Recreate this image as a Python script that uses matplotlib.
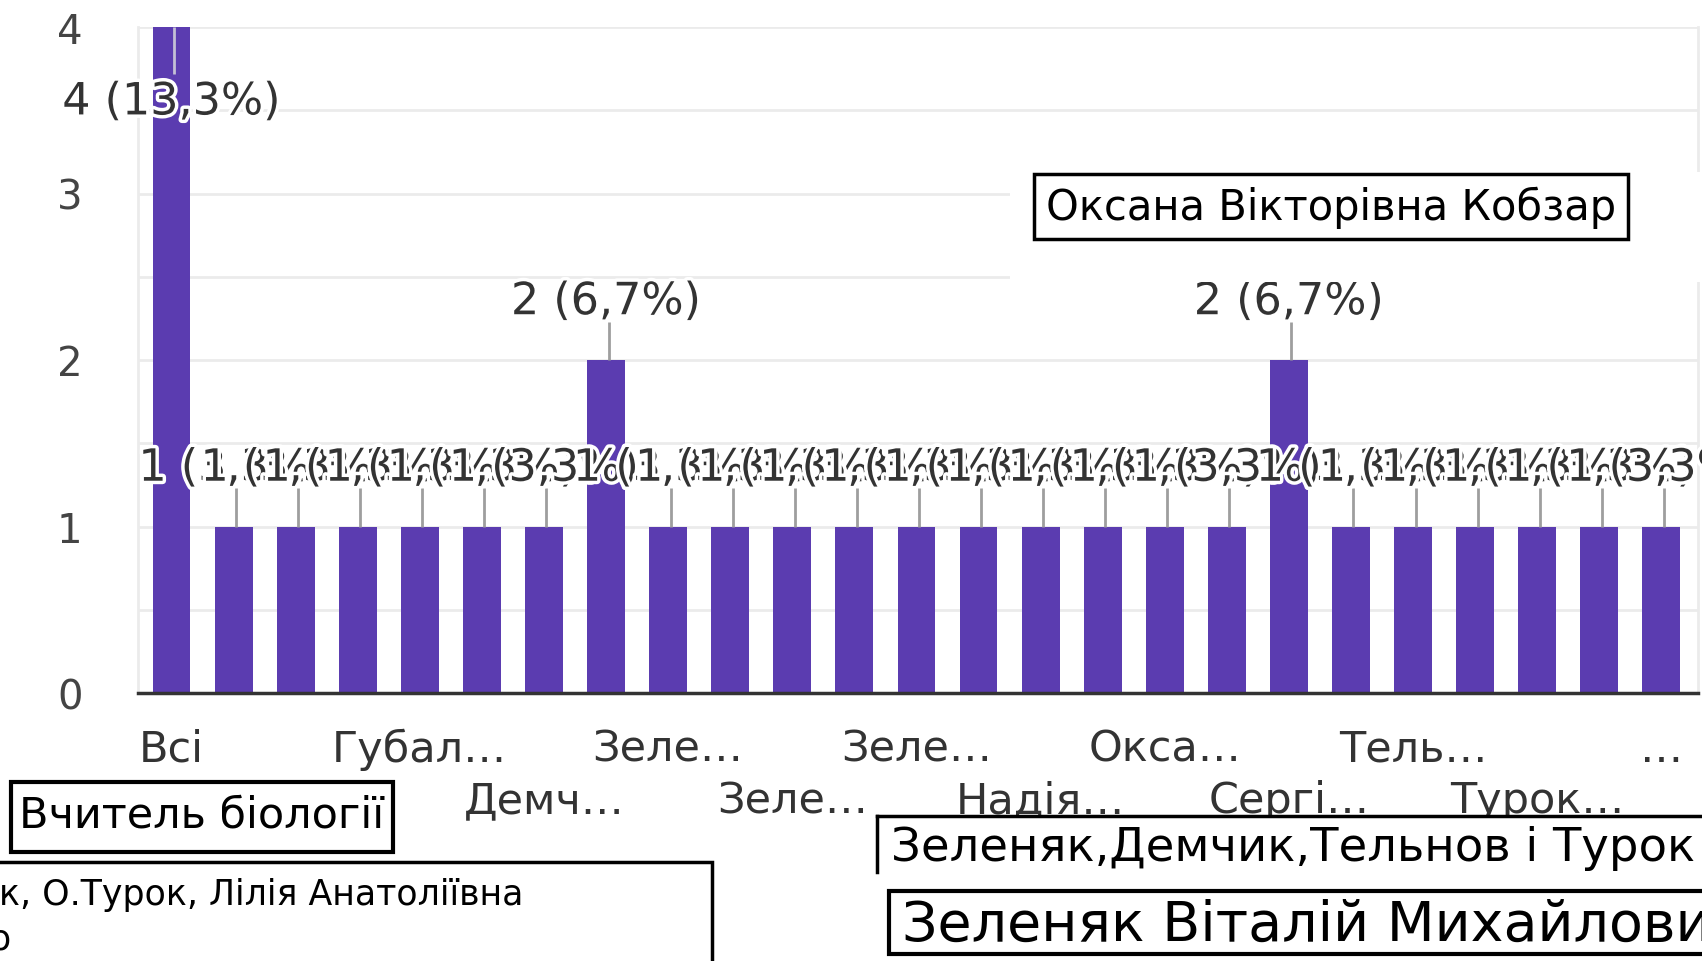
import numpy as np
import matplotlib
matplotlib.use('Agg')
import matplotlib.pyplot as plt
import matplotlib.patheffects as pe
from matplotlib.patches import Rectangle
from matplotlib.lines import Line2D

plt.rcParams['font.family'] = ['DejaVu Sans']

# кількість відповідей для кожного варіанта
counts = [4, 1, 1, 1, 1, 1, 1, 2, 1, 1, 1, 1, 1, 1, 1, 1, 1, 1, 2, 1, 1, 1, 1, 1, 1]

# підписи осі X (два ряди, через один стовпчик)
row1_pos = [0, 4, 8, 12, 16, 20, 24]
row1_labels = ['Всі', 'Губал…', 'Зеле…', 'Зеле…', 'Окса…', 'Тель…', '…']
row2_pos = [2, 6, 10, 14, 18, 22]
row2_labels = ['', 'Демч…', 'Зеле…', 'Надія…', 'Сергі…', 'Турок…']

y_ticks = [0, 1, 2, 3, 4]

# написи у рамках поверх діаграми
note_teacher = 'Вчитель біології'
note_names = 'к, О.Турок, Лілія Анатоліївна'
note_kobzar = 'Оксана Вікторівна Кобзар'
note_group = 'Зеленяк,Демчик,Тельнов і Турок'
note_zelenyak = 'Зеленяк Віталій Михайлович'

W, H = 1702, 962
BAR = '#5b3cb0'
GRID = '#ebebeb'


def fx(px):
    return px / W


def fy(py):
    return 1 - py / H


fig = plt.figure(figsize=(W / 100, H / 100), dpi=100)
ax = fig.add_axes([fx(138), fy(694), (1698 - 138) / W, (694 - 28) / H])

x = np.arange(len(counts))
ax.bar(x, counts, width=0.61, color=BAR, zorder=2)

ax.set_xlim(-0.54, 24.59)
ax.set_ylim(0, 4)

ax.set_yticks(y_ticks)
ax.set_yticks([0.5, 1.5, 2.5, 3.5], minor=True)
ax.grid(axis='y', which='both', color=GRID, lw=2)
ax.set_axisbelow(True)
ax.tick_params(axis='y', which='both', length=0, pad=40, labelsize=29,
               labelcolor='#444444')

ax.set_xticks(row1_pos, labels=row1_labels)
ax.set_xticks(row2_pos, labels=row2_labels, minor=True)
ax.tick_params(axis='x', which='major', length=0, pad=25, labelsize=31,
               labelcolor='#333333')
ax.tick_params(axis='x', which='minor', length=0, pad=62, labelsize=31,
               labelcolor='#333333')

for side in ['left', 'right']:
    ax.spines[side].set_color(GRID)
    ax.spines[side].set_linewidth(2)
ax.spines['top'].set_visible(False)
ax.spines['bottom'].set_color('#333333')
ax.spines['bottom'].set_linewidth(2.5)
ax.spines['bottom'].set_zorder(3)

# підписи значень з виносними лініями
total = sum(counts)
ymax = ax.get_ylim()[1]
halo = [pe.withStroke(linewidth=5, foreground='white')]
for xi, v in zip(x, counts):
    pct = f'{v / total * 100:.1f}'.replace('.', ',')
    label = f'{v} ({pct}%)'
    if v + 0.5 > ymax:
        ax.vlines(xi + 0.04, v - 0.28, v, color='#c3bfd6', lw=2, zorder=3)
        ty = v - 0.45
    else:
        ax.vlines(xi + 0.04, v, v + 0.23, color='#9e9e9e', lw=2, zorder=3)
        ty = v + 0.35
    ax.text(xi, ty, label, ha='center', va='center', fontsize=32,
            color='#333333', path_effects=halo, zorder=4)


def box(x0, y0, x1, y1, lw=2.5):
    fig.patches.append(Rectangle((fx(x0), fy(y1)), (x1 - x0) / W, (y1 - y0) / H,
                                 transform=fig.transFigure, facecolor='white',
                                 edgecolor='black', lw=lw, zorder=5))


# біле тло під рамкою з прізвищем
fig.patches.append(Rectangle((fx(1010), fy(283)), (W - 1010) / W, (283 - 173) / H,
                             transform=fig.transFigure, facecolor='white',
                             edgecolor='none', zorder=4))
box(1034, 175, 1628, 240)
fig.text(fx(1331), fy(208), note_kobzar, ha='center', va='center',
         fontsize=30, color='black', zorder=6)

box(11, 783, 393, 853, lw=3)
fig.text(fx(202), fy(816), note_teacher, ha='center', va='center',
         fontsize=31, color='black', zorder=6)

box(-20, 863, 712, 990)
fig.text(fx(-1), fy(895), note_names, ha='left', va='center',
         fontsize=25, color='black', zorder=6)
fig.text(fx(0), fy(940), 'о', ha='center', va='center',
         fontsize=25, color='black', zorder=6)

fig.patches.append(Rectangle((fx(877), fy(892)), (W - 877) / W, (892 - 817) / H,
                             transform=fig.transFigure, facecolor='white',
                             edgecolor='none', zorder=5))
fig.add_artist(Line2D([fx(877), fx(W + 5)], [fy(817), fy(817)], color='black',
                      lw=2.5, transform=fig.transFigure, zorder=6))
fig.add_artist(Line2D([fx(877), fx(877)], [fy(817), fy(873)], color='black',
                      lw=2.5, transform=fig.transFigure, zorder=6))
fig.text(fx(891), fy(849), note_group, ha='left', va='center',
         fontsize=33.5, color='black', zorder=6)

box(889, 892, 1740, 955, lw=3)
fig.text(fx(902), fy(926), note_zelenyak, ha='left', va='center',
         fontsize=40, color='black', zorder=6)

fig.savefig('out.png', dpi=100, facecolor='white')
